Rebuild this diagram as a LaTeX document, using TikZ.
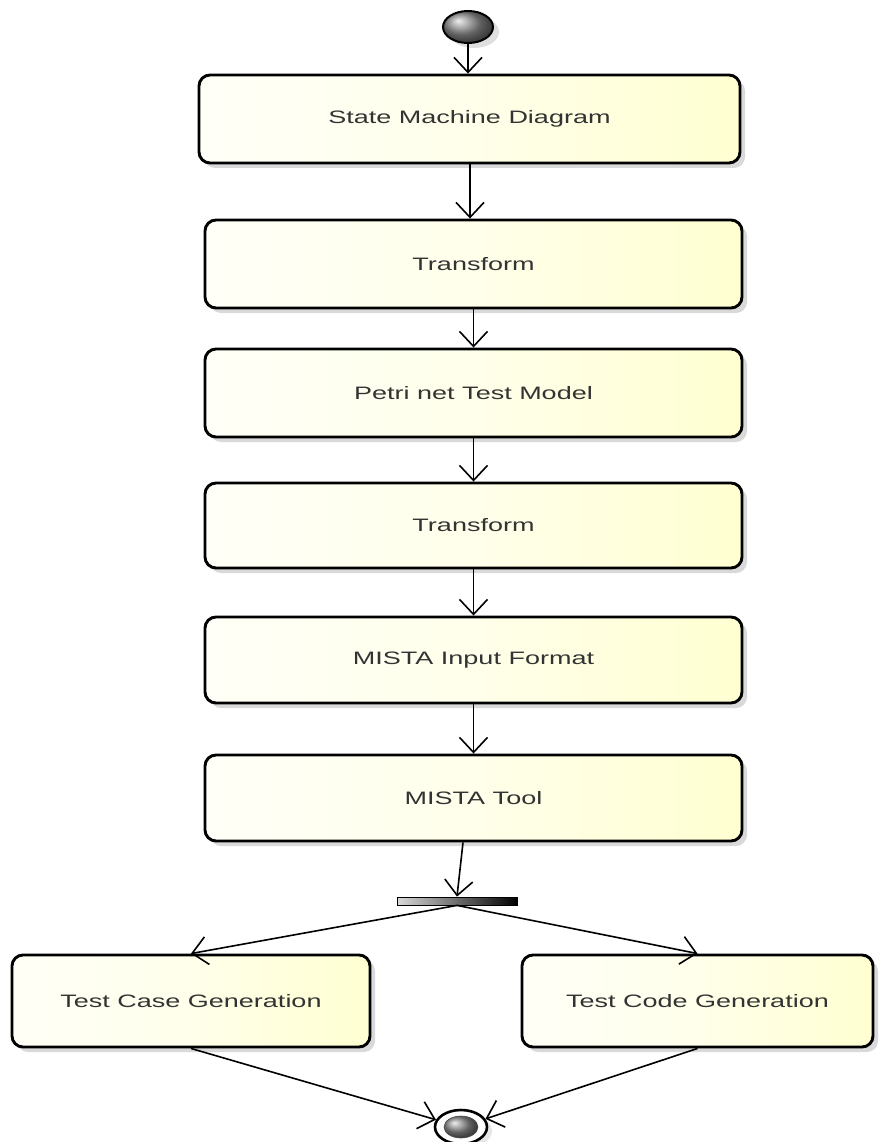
\documentclass[tikz,border=0pt]{standalone}
\usepackage{fontspec}
\usepackage{graphicx}
\setmainfont{Liberation Sans}
\usetikzlibrary{arrows.meta,shapes.geometric,shadows}
\newcommand{\lbl}[1]{\scalebox{1.5}[1]{#1}}
\tikzset{
  stepbox/.style={draw=black, line width=2.9pt, rounded corners=11pt, rectangle,
    left color=white!97!yellow, right color=yellow!18!white, middle color=yellow!8!white,
    drop shadow={opacity=0.3, shadow xshift=5pt, shadow yshift=-5pt},
    font=\fontsize{18}{20}\selectfont, text=black!80, inner sep=0pt},
  arr/.style={draw=black, line width=1.6pt, -{Straight Barb[length=15pt,width=28pt,line width=1.6pt]}}
}
\begin{document}
\begin{tikzpicture}[x={(1pt,0)}, y={(0,-1pt)}]
\useasboundingbox (0,0) rectangle (878,1142);
% initial node
\node[ellipse, minimum width=50pt, minimum height=32pt, draw=black, line width=2pt,
  ball color=black!45, drop shadow={opacity=0.25, shadow xshift=6pt, shadow yshift=-5pt}] (init) at (468,27) {};
% boxes
\node[stepbox, minimum width=541pt, minimum height=88pt] (b1) at (469.5,119) {\lbl{State Machine Diagram}};
\node[stepbox, minimum width=537pt, minimum height=88pt] (b2) at (473.5,264) {\lbl{Transform}};
\node[stepbox, minimum width=537pt, minimum height=88pt] (b3) at (473.5,393) {\lbl{Petri net Test Model}};
\node[stepbox, minimum width=537pt, minimum height=85pt] (b4) at (473.5,525.5) {\lbl{Transform}};
\node[stepbox, minimum width=537pt, minimum height=86pt] (b5) at (473.5,660) {\lbl{MISTA Input Format}};
\node[stepbox, minimum width=537pt, minimum height=86pt] (b6) at (473.5,798) {\lbl{MISTA Tool}};
% fork bar
\node[rectangle, draw=black, line width=0.8pt, minimum width=120pt, minimum height=8pt, inner sep=0pt,
  left color=black!15, right color=black] (bar) at (457,901) {};
% lower boxes
\node[stepbox, minimum width=358pt, minimum height=92pt] (b7) at (191,1001) {\lbl{Test Case Generation}};
\node[stepbox, minimum width=351pt, minimum height=92pt] (b8) at (697.5,1001) {\lbl{Test Code Generation}};
% final node
\node[ellipse, draw=black, line width=2.6pt, fill=white, minimum width=52pt, minimum height=34pt,
  drop shadow={opacity=0.2, shadow xshift=5pt, shadow yshift=-4pt}] (fin) at (461,1127) {};
\node[ellipse, minimum width=34pt, minimum height=22pt, draw=black!70, line width=0.6pt, ball color=black!45] (finin) at (fin.center) {};
% connectors
\draw[arr] (init.south) -- (init.south |- b1.north);
\draw[arr] (b1.south -| 470,0) -- (b2.north -| 470,0);
\draw[arr] (b2.south) -- (b3.north);
\draw[arr] (b3.south) -- (b4.north);
\draw[arr] (b4.south) -- (b5.north);
\draw[arr] (b5.south) -- (b6.north);
\draw[arr] (b6.south -| 463,0) -- (bar.north);
\draw[arr] (bar.south) -- (b7.north);
\draw[arr] (bar.south) -- (b8.north);
\draw[arr] (b7.south) -- (fin);
\draw[arr] (b8.south) -- (fin);
\end{tikzpicture}
\end{document}
